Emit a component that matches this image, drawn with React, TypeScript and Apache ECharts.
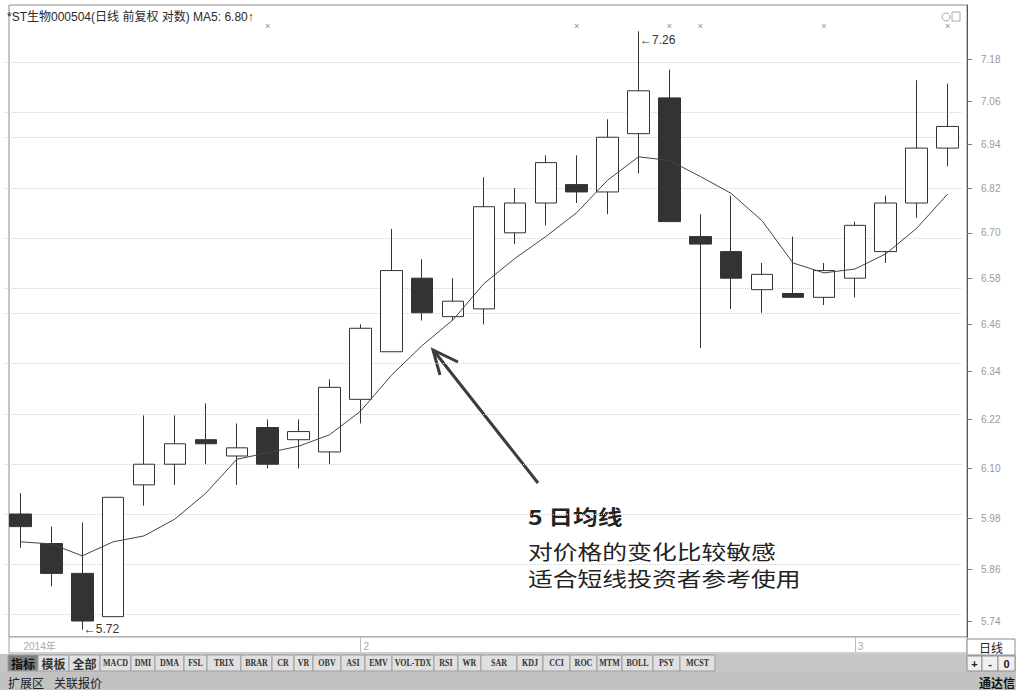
import { useEffect, useRef } from 'react';
import * as echarts from 'echarts';

const dates = [
  '2014-01-16', '2014-01-17', '2014-01-20', '2014-01-21', '2014-01-22', '2014-01-23', '2014-01-24',
  '2014-01-27', '2014-01-28', '2014-01-29', '2014-01-30',
  '2014-02-07', '2014-02-10', '2014-02-11', '2014-02-12', '2014-02-13', '2014-02-14', '2014-02-17',
  '2014-02-18', '2014-02-19', '2014-02-20', '2014-02-21', '2014-02-24', '2014-02-25', '2014-02-26',
  '2014-02-27', '2014-02-28',
  '2014-03-03', '2014-03-04', '2014-03-05', '2014-03-06',
];
const opens = [5.99, 5.92, 5.85, 5.75, 6.06, 6.11, 6.17, 6.13, 6.2, 6.17, 6.14, 6.27, 6.39, 6.58, 6.48, 6.5, 6.7, 6.78, 6.83, 6.81, 6.97, 7.07, 6.69, 6.65, 6.55, 6.54, 6.53, 6.58, 6.65, 6.78, 6.93];
const closes = [5.96, 5.85, 5.74, 6.03, 6.11, 6.16, 6.16, 6.15, 6.11, 6.19, 6.3, 6.45, 6.6, 6.49, 6.52, 6.77, 6.78, 6.89, 6.81, 6.96, 7.09, 6.73, 6.67, 6.58, 6.59, 6.53, 6.6, 6.72, 6.78, 6.93, 6.99];
const lows = [5.91, 5.82, 5.72, 5.75, 6.01, 6.06, 6.11, 6.06, 6.1, 6.1, 6.11, 6.21, 6.39, 6.47, 6.47, 6.46, 6.67, 6.72, 6.78, 6.75, 6.86, 6.73, 6.4, 6.5, 6.49, 6.53, 6.51, 6.53, 6.62, 6.74, 6.88];
const highs = [6.04, 5.96, 5.97, 6.03, 6.23, 6.23, 6.26, 6.21, 6.22, 6.22, 6.32, 6.46, 6.71, 6.63, 6.58, 6.85, 6.82, 6.91, 6.91, 7.01, 7.26, 7.15, 6.75, 6.8, 6.62, 6.69, 6.62, 6.73, 6.8, 7.12, 7.11];
const ma5 = [5.924, 5.919, 5.891, 5.924, 5.938, 5.978, 6.04, 6.122, 6.138, 6.154, 6.182, 6.24, 6.33, 6.406, 6.472, 6.566, 6.632, 6.69, 6.754, 6.842, 6.906, 6.896, 6.852, 6.806, 6.732, 6.62, 6.594, 6.604, 6.644, 6.712, 6.804];
const priceTicks = [7.18, 7.06, 6.94, 6.82, 6.7, 6.58, 6.46, 6.34, 6.22, 6.1, 5.98, 5.86, 5.74];
const markerIdx = [8, 18, 21, 22, 26, 30];
const toolbarLabels = ['指标', '模板', '全部', 'MACD', 'DMI', 'DMA', 'FSL', 'TRIX', 'BRAR', 'CR', 'VR', 'OBV', 'ASI', 'EMV', 'VOL-TDX', 'RSI', 'WR', 'SAR', 'KDJ', 'CCI', 'ROC', 'MTM', 'BOLL', 'PSY', 'MCST'];
const toolbarEdges = [8, 38, 69, 100, 131, 155, 184, 207, 241, 272, 294, 313, 341, 365, 392, 434, 458, 481, 517, 543, 570, 597, 622, 653, 680, 715];
const noteLines = ['5 日均线', '对价格的变化比较敏感', '适合短线投资者参考使用'];

const CJK = '"Liberation Sans", "Noto Sans CJK SC", sans-serif';

export default function App() {
  const ref = useRef<HTMLDivElement>(null);
  useEffect(() => {
    const chart = echarts.init(ref.current!, null, { renderer: 'svg' });
    const L = Math.log;
    const isMonthStart = (i: number) => i > 0 && dates[i].slice(5, 7) !== dates[i - 1].slice(5, 7);
    const hiIdx = highs.indexOf(Math.max(...highs));
    const loIdx = lows.indexOf(Math.min(...lows));
    const yMin = L(5.7036);
    const yMax = L(7.3365);

    const graphic: any[] = [];
    graphic.push({ type: 'rect', silent: true, shape: { x: 9, y: 5, width: 958, height: 632 }, style: { fill: 'none', stroke: '#8c8c8c', lineWidth: 1 } });
    graphic.push({ type: 'rect', silent: true, shape: { x: 9, y: 637, width: 958, height: 16 }, style: { fill: '#ffffff', stroke: '#a0a0a0', lineWidth: 1 } });
    graphic.push({
      type: 'text', x: 7, y: 17, silent: true,
      style: { text: `*ST生物000504(日线 前复权 对数) MA5: ${ma5[ma5.length - 1].toFixed(2)}↑`, fontSize: 12, fontFamily: CJK, fill: '#2a2a2a', textVerticalAlign: 'middle' },
    });
    graphic.push({ type: 'circle', silent: true, shape: { cx: 946, cy: 17, r: 4 }, style: { fill: 'none', stroke: '#aaa', lineWidth: 1 } });
    graphic.push({ type: 'rect', silent: true, shape: { x: 952, y: 12, width: 8, height: 9 }, style: { fill: 'none', stroke: '#aaa', lineWidth: 1 } });
    graphic.push({ type: 'line', silent: true, shape: { x1: 538, y1: 483, x2: 434, y2: 351 }, style: { stroke: '#3c3c3c', lineWidth: 3 } });
    graphic.push({ type: 'polyline', silent: true, shape: { points: [[458, 362], [433, 350], [440, 375]] }, style: { stroke: '#3c3c3c', lineWidth: 3, fill: 'none' } });
    const noteY = [516, 551, 578];
    noteLines.forEach((t, i) => {
      graphic.push({
        type: 'text', x: 528, y: noteY[i], scaleX: 1.24, silent: true,
        style: { text: t, fontSize: 20, fontWeight: i === 0 ? 'bold' : 'normal', fontFamily: '"Noto Sans CJK SC", sans-serif', fill: '#222', textVerticalAlign: 'middle' },
      });
    });
    graphic.push({ type: 'rect', silent: true, shape: { x: 0, y: 654, width: 967, height: 18 }, style: { fill: '#c6c6c6' } });
    toolbarLabels.forEach((t, i) => {
      const x0 = toolbarEdges[i];
      const w = toolbarEdges[i + 1] - x0;
      const cjk = /[\u4e00-\u9fff]/.test(t);
      graphic.push({ type: 'rect', silent: true, shape: { x: x0, y: 655, width: w, height: 16 }, style: { fill: i === 0 ? '#808080' : '#e0e0e0', stroke: '#9c9c9c', lineWidth: 1 } });
      graphic.push({
        type: 'text', silent: true, x: x0 + w / 2, y: 663, scaleX: cjk ? 1 : 0.8,
        style: {
          text: t, fontSize: cjk ? 12 : 10, fontWeight: 'bold',
          fontFamily: cjk ? '"Noto Sans CJK SC", sans-serif' : '"Liberation Serif", serif',
          fill: i === 0 ? '#111' : '#333', textAlign: 'center', textVerticalAlign: 'middle',
        },
      });
    });
    graphic.push({ type: 'rect', silent: true, shape: { x: 0, y: 672, width: 1016, height: 18 }, style: { fill: '#c2c2c2' } });
    graphic.push({ type: 'text', silent: true, x: 8, y: 682, style: { text: '扩展区', fontSize: 12, fontFamily: '"Noto Sans CJK SC", sans-serif', fill: '#222', textVerticalAlign: 'middle' } });
    graphic.push({ type: 'text', silent: true, x: 54, y: 682, style: { text: '关联报价', fontSize: 12, fontFamily: '"Noto Sans CJK SC", sans-serif', fill: '#222', textVerticalAlign: 'middle' } });
    graphic.push({ type: 'rect', silent: true, shape: { x: 967, y: 654, width: 49, height: 18 }, style: { fill: '#c6c6c6' } });
    graphic.push({ type: 'rect', silent: true, shape: { x: 967, y: 639, width: 48, height: 16 }, style: { fill: '#ffffff', stroke: '#8c8c8c', lineWidth: 1 } });
    graphic.push({ type: 'text', silent: true, x: 991, y: 647, style: { text: '日线', fontSize: 12, fontFamily: '"Noto Sans CJK SC", sans-serif', fill: '#222', textAlign: 'center', textVerticalAlign: 'middle' } });
    const cells = [[967, 982, '+'], [982, 998, '-'], [998, 1015, '0']] as const;
    cells.forEach(([a, b, t]) => {
      graphic.push({ type: 'rect', silent: true, shape: { x: a, y: 656, width: b - a, height: 15 }, style: { fill: '#f0f0f0', stroke: '#8c8c8c', lineWidth: 1 } });
      graphic.push({ type: 'text', silent: true, x: (a + b) / 2, y: 664, style: { text: t, fontSize: 11, fontWeight: 'bold', fontFamily: '"Liberation Sans", sans-serif', fill: '#222', textAlign: 'center', textVerticalAlign: 'middle' } });
    });
    graphic.push({ type: 'text', silent: true, x: 1015, y: 682, style: { text: '通达信', fontSize: 12, fontWeight: 'bold', fontFamily: '"Noto Sans CJK SC", sans-serif', fill: '#111', textAlign: 'right', textVerticalAlign: 'middle' } });

    chart.setOption({
      animation: false,
      backgroundColor: '#ffffff',
      grid: { left: 5, right: 53, top: 5, bottom: 53 },
      xAxis: {
        type: 'category',
        data: dates,
        boundaryGap: true,
        axisLine: { show: false },
        axisTick: {
          show: true, alignWithLabel: true, length: 15,
          interval: (i: number) => isMonthStart(i),
          lineStyle: { color: '#bbbbbb' },
        },
        axisLabel: {
          interval: (i: number) => i === 0 || isMonthStart(i),
          formatter: (v: string, i: number) => (i === 0 ? '2014年' : String(Number(v.slice(5, 7)))),
          align: 'left', margin: 4, fontSize: 10, color: '#aaaaaa', fontFamily: CJK,
          padding: [0, 0, 0, 3],
        },
        splitLine: { show: false },
      },
      yAxis: {
        type: 'value',
        position: 'right',
        offset: 4,
        min: yMin,
        max: yMax,
        scale: true,
        axisLine: { show: true, lineStyle: { color: '#555555' } },
        axisTick: { show: true, customValues: priceTicks.map(L), length: 5, lineStyle: { color: '#777' } },
        axisLabel: {
          customValues: priceTicks.map(L),
          formatter: (v: number) => Math.exp(v).toFixed(2),
          margin: 14, fontSize: 10, color: '#9a9a9a', fontFamily: '"Liberation Sans", sans-serif',
        },
        splitLine: { show: false },
      },
      graphic,
      series: [
        {
          type: 'line',
          data: [],
          z: 1,
          silent: true,
          markLine: {
            z: 1,
            silent: true, symbol: 'none',
            label: { show: false },
            lineStyle: { color: '#d2d2d2', type: 'dotted', width: 1 },
            data: priceTicks.map((p) => ({ yAxis: L(p) })),
          },
        },
        {
          type: 'candlestick',
          data: dates.map((_, i) => [L(opens[i]), L(closes[i]), L(lows[i]), L(highs[i])]),
          barWidth: 22,
          itemStyle: { color: '#ffffff', color0: '#333333', borderColor: '#333333', borderColor0: '#333333', borderWidth: 1 },
          markPoint: {
            symbol: 'circle', symbolSize: 1,
            itemStyle: { color: 'rgba(0,0,0,0)' },
            label: { show: true, position: 'right', distance: 1, fontSize: 12, color: '#333', fontFamily: '"Liberation Sans", sans-serif' },
            data: [
              { coord: [dates[hiIdx], L(highs[hiIdx])], label: { formatter: '←' + highs[hiIdx].toFixed(2), offset: [0, 9] } },
              { coord: [dates[loIdx], L(lows[loIdx])], label: { formatter: '←' + lows[loIdx].toFixed(2), offset: [0, -1] } },
            ],
          },
          z: 3,
        },
        {
          type: 'line',
          data: ma5.map(L),
          symbol: 'none',
          lineStyle: { color: '#444', width: 1 },
          z: 4,
        },
        {
          type: 'scatter',
          data: markerIdx.map((i) => [dates[i], L(7.275)]),
          symbolSize: 1,
          itemStyle: { color: 'rgba(0,0,0,0)' },
          label: { show: true, formatter: '×', position: 'inside', fontSize: 9, color: '#666' },
          z: 5,
        },
      ],
    });
    return () => chart.dispose();
  }, []);
  return <div ref={ref} style={{ position: 'fixed', left: 0, top: 0, width: 1016, height: 690, background: '#fff' }} />;
}
